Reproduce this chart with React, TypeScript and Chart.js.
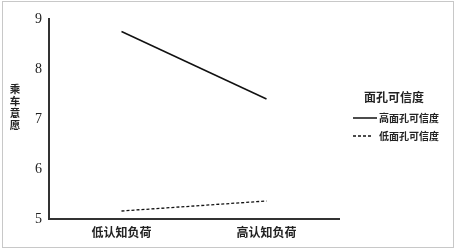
import React, { useEffect, useRef } from "react";
import { Chart, registerables } from "chart.js";

Chart.register(...registerables);

const categories = ["低认知负荷", "高认知负荷"];
const seriesNames = ["高面孔可信度", "低面孔可信度"];
const highTrust = [8.75, 7.4];
const lowTrust = [5.16, 5.36];
const yTicks = [5, 6, 7, 8, 9];
const yTitle = "乘车意愿";
const legendTitle = "面孔可信度";

const SERIF = "'Liberation Serif', 'Noto Sans CJK SC', serif";
const CJK = "'Noto Sans CJK SC', 'Liberation Serif', serif";

const decorPlugin = {
  id: "decor",
  beforeDraw(chart: any) {
    const ctx = chart.ctx;
    ctx.save();
    ctx.fillStyle = "#ffffff";
    ctx.fillRect(0, 0, chart.width, chart.height);
    ctx.strokeStyle = "#c8c8c8";
    ctx.lineWidth = 1;
    ctx.strokeRect(2.5, 1.5, 451, 246);
    ctx.restore();
  },
  afterDraw(chart: any) {
    const ctx = chart.ctx;
    ctx.save();
    // vertical stacked y title
    ctx.fillStyle = "#222";
    ctx.font = `bold 10.5px ${CJK}`;
    ctx.textAlign = "center";
    ctx.textBaseline = "middle";
    const chars = Array.from(yTitle);
    const midY = 107;
    const step = 12;
    chars.forEach((c, i) => {
      ctx.fillText(c, 15, midY + (i - (chars.length - 1) / 2) * step);
    });
    // legend
    const lx = 353;
    ctx.font = `bold 12px ${CJK}`;
    ctx.textAlign = "center";
    ctx.fillText(legendTitle, 394, 97);
    ctx.font = `bold 10px ${CJK}`;
    ctx.textAlign = "left";
    const ys = [118, 136];
    chart.data.datasets.forEach((ds: any, i: number) => {
      const y = ys[i];
      ctx.strokeStyle = ds.borderColor;
      ctx.lineWidth = 1.5;
      ctx.setLineDash(ds.borderDash || []);
      ctx.beginPath();
      ctx.moveTo(lx, y);
      ctx.lineTo(lx + (i === 0 ? 24 : 20), y);
      ctx.stroke();
      ctx.setLineDash([]);
      ctx.fillStyle = "#222";
      ctx.fillText(ds.label, 379, y);
    });
    ctx.restore();
  },
};

export default function App() {
  const ref = useRef<HTMLCanvasElement | null>(null);
  useEffect(() => {
    if (!ref.current) return;
    const chart = new Chart(ref.current, {
      type: "line",
      data: {
        labels: categories,
        datasets: [
          {
            label: seriesNames[0],
            data: highTrust,
            borderColor: "#111111",
            borderWidth: 1.5,
            pointRadius: 0,
            fill: false,
          },
          {
            label: seriesNames[1],
            data: lowTrust,
            borderColor: "#111111",
            borderWidth: 1.3,
            borderDash: [3, 2],
            pointRadius: 0,
            fill: false,
          },
        ],
      },
      options: {
        responsive: false,
        animation: false,
        layout: { padding: { left: 0, right: 117, top: 19, bottom: 0 } },
        plugins: {
          legend: { display: false },
          tooltip: { enabled: false },
        },
        scales: {
          x: {
            offset: true,
            grid: { display: false, drawTicks: false },
            border: { display: true, color: "#333", width: 2 },
            ticks: {
              color: "#222",
              font: { family: CJK, size: 12, weight: "bold" },
              padding: 6,
            },
            afterFit: (axis: any) => {
              axis.height = 31;
            },
          },
          y: {
            min: 5,
            max: 9,
            afterBuildTicks: (axis: any) => {
              axis.ticks = yTicks.map((v) => ({ value: v }));
            },
            grid: { display: false, drawTicks: false },
            border: { display: true, color: "#333", width: 2 },
            ticks: {
              color: "#222",
              font: { family: SERIF, size: 14 },
              padding: 7,
            },
            afterFit: (axis: any) => {
              axis.width = 49;
            },
          },
        },
      },
      plugins: [decorPlugin],
    });
    return () => chart.destroy();
  }, []);
  return (
    <div style={{ position: "absolute", left: 0, top: 0, width: 456, height: 250 }}>
      <canvas ref={ref} width={456} height={250} style={{ display: "block" }} />
    </div>
  );
}
